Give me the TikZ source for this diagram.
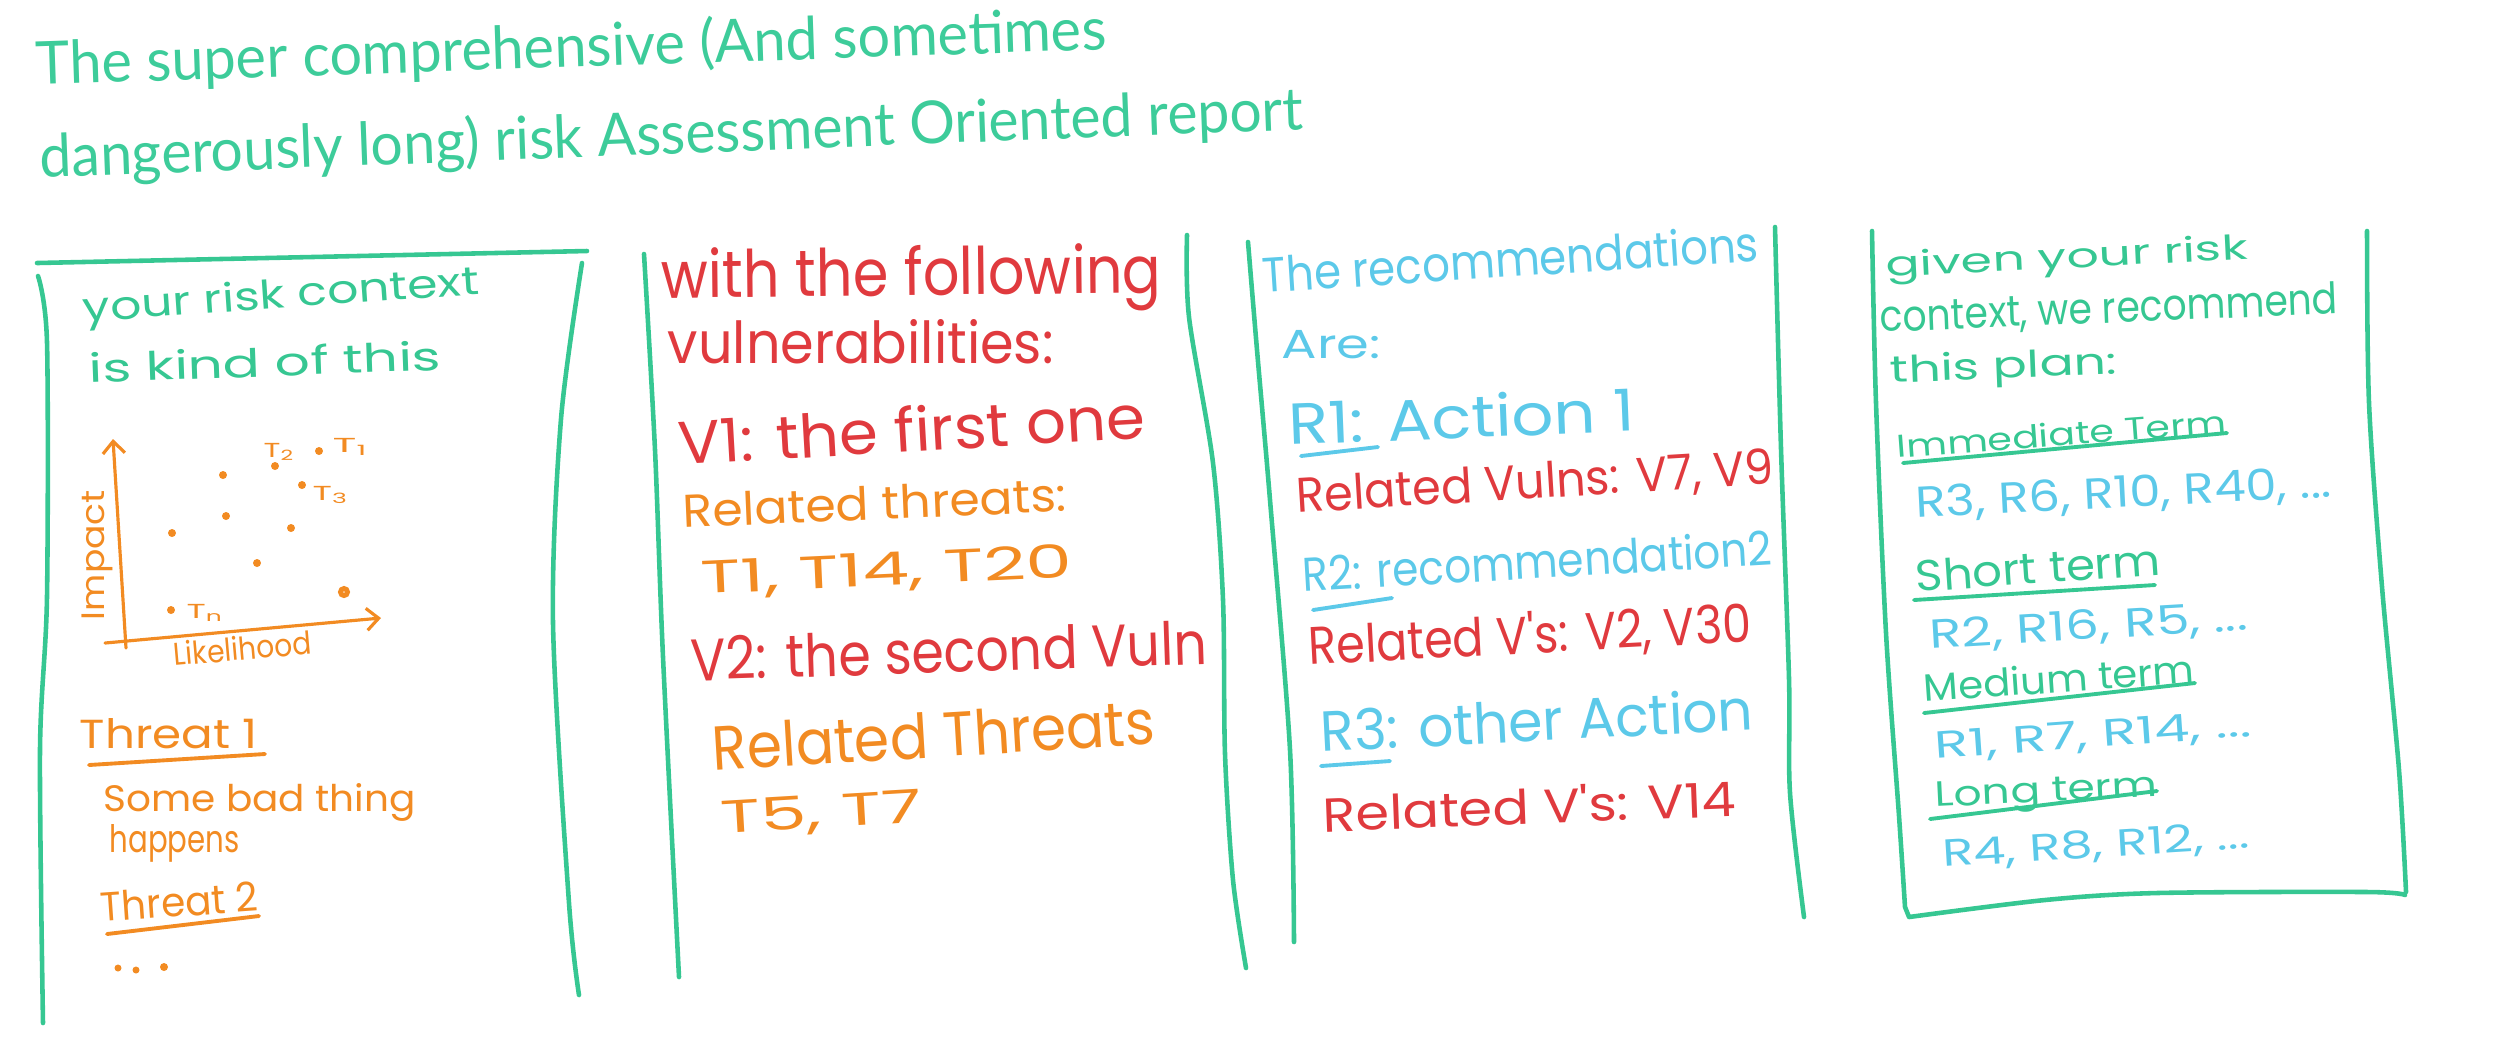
\documentclass[tikz,border=0pt]{standalone}
\usepackage{fontspec}
\usepackage{graphicx}
\setmainfont{Poppins}
\newfontfamily\handfont{Poppins}
\newfontfamily\titlefont{Lato}
\usetikzlibrary{arrows.meta}
\definecolor{cgreen}{HTML}{36C792}
\definecolor{ctitle}{HTML}{3DCC9A}
\definecolor{cred}{HTML}{E03A3E}
\definecolor{corange}{HTML}{F28B22}
\definecolor{cblue}{HTML}{5CC9E9}
\newlength\ul \setlength\ul{0.01cm}
% name, colour, x, y, angle, width, ascender height, text
\newcommand\htxt[8]{\node[htext, text=#2, rotate=#5] (#1) at (#3,#4) {\resizebox{#6\ul}{#7\ul}{\vphantom{Thl}#8}};}
\begin{document}
\begin{tikzpicture}[x=0.01cm, y=-0.01cm,
  htext/.style={anchor=base west, inner sep=0pt, font=\handfont},
  ttext/.style={anchor=base west, inner sep=0pt, font=\titlefont, text=ctitle},
  frame/.style={draw=cgreen, line width=1.3pt, line cap=round, line join=round},
  uline/.style={line width=1.1pt, line cap=round},
  axisline/.style={draw=corange, line width=0.9pt, line cap=round, -{Straight Barb[length=1.2mm,width=2.2mm]}},
  tdot/.style={fill=corange}]
\useasboundingbox (0,0) rectangle (2500,1053);

% ---------- title ----------
\node[ttext, rotate=1.9] (title1) at (36,85) {\resizebox{1071\ul}{46\ul}{\vphantom{Th}The super comprehensive (And sometimes}};
\node[ttext, rotate=2.2] (title2) at (40,178) {\resizebox{1264\ul}{46\ul}{\vphantom{Th}dangerously long) risk Assessment Oriented report}};

% ---------- frames ----------
\draw[frame] (37,263) -- (587,251);
\draw[frame] plot[smooth] coordinates {(38,276) (47,342) (47,597) (40,750) (43,1023)};
\draw[frame] plot[smooth] coordinates {(582,263) (561,419) (553,623) (569,903) (579,995)};

\draw[frame] plot[smooth] coordinates {(644,254) (655,450) (663,657) (679,977)};
\draw[frame] plot[smooth] coordinates {(1187,235) (1189,317) (1213,463) (1223,600) (1225,754) (1233,880) (1246,968)};

\draw[frame] plot[smooth] coordinates {(1248,242) (1257,350) (1270,500) (1290,750) (1294,942)};
\draw[frame] plot[smooth] coordinates {(1775,227) (1781,449) (1789,679) (1790,793) (1804,917)};

\draw[frame] plot[smooth] coordinates {(1872,231) (1876,403) (1886,633) (1899,816) (1905,907)} -- (1909,917)
  plot[smooth] coordinates {(1909,917) (2045,900) (2157,893) (2367,892) (2405,895)};
\draw[frame] plot[smooth] coordinates {(2367,231) (2369,403) (2382,587) (2399,770) (2406,892)};

% ---------- panel 1 ----------
\htxt{p1a}{cgreen}{83}{322}{4.0}{397}{30}{your risk context}
\htxt{p1b}{cgreen}{89}{383}{2.1}{352}{30}{is kind of this}

\coordinate (yax0) at (126,648);
\coordinate (yax1) at (113,439);
\coordinate (xax0) at (105,643);
\coordinate (xax1) at (381,618);
\draw[axisline] (yax0) -- (yax1);
\draw[axisline] (xax0) -- (xax1);
\node[htext, anchor=center, text=corange, rotate=90] (impact) at (97,555) {\resizebox{130\ul}{24\ul}{\vphantom{Thl}Impact}};
\htxt{lik}{corange}{174}{666}{5}{138}{24}{Likelihood}

\fill[tdot] (223,475) circle (4);
\fill[tdot] (275,466) circle (4);
\fill[tdot] (319,451) circle (4);
\fill[tdot] (302,485) circle (4);
\fill[tdot] (226,516) circle (4);
\fill[tdot] (172,533) circle (4);
\fill[tdot] (291,528) circle (4);
\fill[tdot] (257,563) circle (4);
\draw[corange, line width=1.4pt] (344,592) circle (3.5);
\fill[tdot] (171,610) circle (4);
\htxt{lT2}{corange}{263}{457}{0}{31}{15}{T\textsubscript{2}}
\htxt{lT1}{corange}{332}{452}{0}{36}{15}{T\textsubscript{1}}
\htxt{lT3}{corange}{312}{500}{0}{36}{15}{T\textsubscript{3}}
\htxt{lTn}{corange}{186}{618}{0}{37}{15}{T\textsubscript{n}}

\htxt{th1}{corange}{79}{748}{0}{178}{30}{Threat 1}
\draw[uline, corange] (89,765) -- (265,754);
\htxt{sbt}{corange}{103}{811}{0}{312}{28}{Some bad thing}
\htxt{hap}{corange}{109}{852}{0}{130}{28}{happens}
\htxt{th2}{corange}{101}{922}{4}{158}{30}{Threat 2}
\draw[uline, corange] (107,934) -- (259,916);
\fill[tdot] (118,968) circle (3.5);
\fill[tdot] (136,970) circle (3.5);
\fill[tdot] (164,967) circle (4);

% ---------- panel 2 ----------
\htxt{p2a}{cred}{661}{298}{0.6}{500}{50}{with the following}
\htxt{p2b}{cred}{667}{363}{0}{386}{44}{vulnerabilities:}
\htxt{p2c}{cred}{679}{465}{3.3}{467}{46}{V1: the first one}
\htxt{p2d}{corange}{683}{528}{2.5}{384}{34}{Related threats:}
\htxt{p2e}{corange}{701}{594}{2.6}{372}{34}{T1, T14, T20}
\htxt{p2f}{cred}{691}{681}{1.9}{516}{44}{V2: the second Vuln}
\htxt{p2g}{corange}{713}{771}{3.5}{443}{46}{Related Threats}
\htxt{p2h}{corange}{721}{834}{3.4}{201}{34}{T5, T7}

% ---------- panel 3 ----------
\htxt{p3a}{cblue}{1263}{293}{3.7}{497}{37}{The recommendations}
\htxt{p3b}{cblue}{1281}{358}{0}{99}{30}{Are:}
\htxt{p3c}{cblue}{1289}{445}{2.3}{346}{44}{R1: Action 1}
\draw[uline, cblue] (1301,456) -- (1378,447);
\htxt{p3d}{cred}{1297}{513}{3.5}{478}{36}{Related Vulns: V7, V9}
\htxt{p3e}{cblue}{1303}{592}{3.3}{470}{36}{R2: recommendation2}
\draw[uline, cblue] (1313,610) -- (1392,598);
\htxt{p3f}{cred}{1309}{665}{3}{443}{42}{Related V's: V2, V30}
\htxt{p3g}{cblue}{1321}{752}{2.9}{433}{43}{R3: other Action}
\draw[uline, cblue] (1321,766) -- (1390,761);
\htxt{p3h}{cred}{1323}{832}{2.2}{413}{38}{Related V's: V14}

% ---------- panel 4 ----------
\htxt{p4a}{cgreen}{1886}{277}{2.8}{362}{26}{given your risk}
\htxt{p4b}{cgreen}{1880}{332}{2.3}{458}{32}{context, we recommend}
\htxt{p4c}{cgreen}{1890}{383}{2.3}{227}{28}{this plan:}
\htxt{p4d}{cgreen}{1897}{458}{4.3}{330}{24}{Immediate Term}
\draw[uline, cgreen] (1903,463) -- (2227,433);
\htxt{p4e}{cblue}{1916}{518}{2.9}{416}{32}{R3, R6, R10, R40, ...}
\htxt{p4f}{cgreen}{1916}{592}{4}{245}{32}{Short term}
\draw[uline, cgreen] (1914,600) -- (2155,585);
\htxt{p4g}{cblue}{1930}{649}{3.4}{318}{30}{R2, R16, R5, ...}
\htxt{p4h}{cgreen}{1924}{702}{4}{271}{29}{Medium term}
\draw[uline, cgreen] (1924,713) -- (2195,683);
\htxt{p4i}{cblue}{1935}{759}{4.1}{317}{28}{R1, R7, R14, ...}
\htxt{p4j}{cgreen}{1935}{807}{2.8}{222}{26}{Long term}
\draw[uline, cgreen] (1930,819) -- (2157,791);
\htxt{p4k}{cblue}{1943}{867}{3.5}{307}{28}{R4, R8, R12, ...}
\end{tikzpicture}
\end{document}
